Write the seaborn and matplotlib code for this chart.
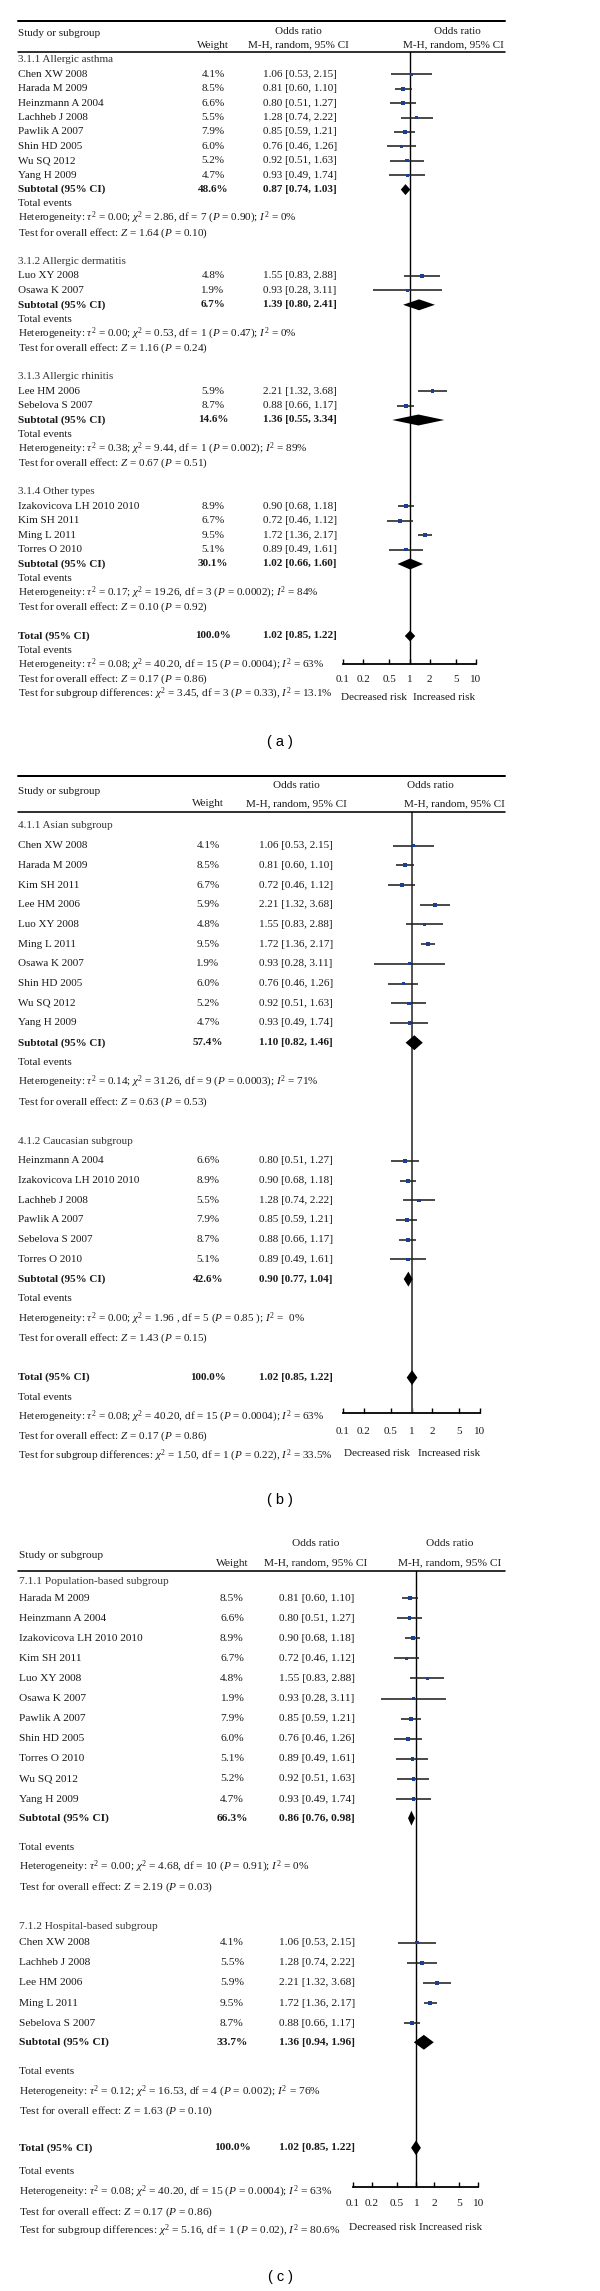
import numpy as np
import pandas as pd
import matplotlib
matplotlib.use("Agg")
import matplotlib.pyplot as plt
import matplotlib.transforms as mtransforms
from matplotlib.lines import Line2D
from matplotlib.ticker import NullLocator
import seaborn as sns

# ---- study data (same 16 studies used in all three panels) ----
studies = ["Chen XW 2008", "Harada M 2009", "Heinzmann A 2004", "Izakovicova LH 2010 2010",
           "Kim SH 2011", "Lachheb J 2008", "Lee HM 2006", "Luo XY 2008", "Ming L 2011",
           "Osawa K 2007", "Pawlik A 2007", "Sebelova S 2007", "Shin HD 2005",
           "Torres O 2010", "Wu SQ 2012", "Yang H 2009"]
weights = [4.1, 8.5, 6.6, 8.9, 6.7, 5.5, 5.9, 4.8, 9.5, 1.9, 7.9, 8.7, 6.0, 5.1, 5.2, 4.7]
odds = [1.06, 0.81, 0.80, 0.90, 0.72, 1.28, 2.21, 1.55, 1.72, 0.93, 0.85, 0.88, 0.76, 0.89, 0.92, 0.93]
ci_low = [0.53, 0.60, 0.51, 0.68, 0.46, 0.74, 1.32, 0.83, 1.36, 0.28, 0.59, 0.66, 0.46, 0.49, 0.51, 0.49]
ci_high = [2.15, 1.10, 1.27, 1.18, 1.12, 2.22, 3.68, 2.88, 2.17, 3.11, 1.21, 1.17, 1.26, 1.61, 1.63, 1.74]

# overall result (identical in every panel)
total_weight = 100.0
total_or = [1.02, 0.85, 1.22]
total_het = ["0.08", "40.20", "15", "0.0004", "63%"]
total_z = ["0.17", "0.86"]

# ---- panel (a): allergy type ----
a_groups = ["3.1.1 Allergic asthma", "3.1.2 Allergic dermatitis", "3.1.3 Allergic rhinitis", "3.1.4 Other types"]
a_members = [["Chen XW 2008", "Harada M 2009", "Heinzmann A 2004", "Lachheb J 2008", "Pawlik A 2007",
              "Shin HD 2005", "Wu SQ 2012", "Yang H 2009"],
             ["Luo XY 2008", "Osawa K 2007"],
             ["Lee HM 2006", "Sebelova S 2007"],
             ["Izakovicova LH 2010 2010", "Kim SH 2011", "Ming L 2011", "Torres O 2010"]]
a_sub_weight = [48.6, 6.7, 14.6, 30.1]
a_sub_or = [0.87, 1.39, 1.36, 1.02]
a_sub_low = [0.74, 0.80, 0.55, 0.66]
a_sub_high = [1.03, 2.41, 3.34, 1.60]
a_het = [["0.00", "2.86", "7", "0.90", "0%"], ["0.00", "0.53", "1", "0.47", "0%"],
         ["0.38", "9.44", "1", "0.002", "89%"], ["0.17", "19.26", "3", "0.0002", "84%"]]
a_z = [["1.64", "0.10"], ["1.16", "0.24"], ["0.67", "0.51"], ["0.10", "0.92"]]
a_diff = ["3.45", "3", "0.33", "13.1%"]

# ---- panel (b): ethnicity ----
b_groups = ["4.1.1 Asian subgroup", "4.1.2 Caucasian subgroup"]
b_members = [["Chen XW 2008", "Harada M 2009", "Kim SH 2011", "Lee HM 2006", "Luo XY 2008",
              "Ming L 2011", "Osawa K 2007", "Shin HD 2005", "Wu SQ 2012", "Yang H 2009"],
             ["Heinzmann A 2004", "Izakovicova LH 2010 2010", "Lachheb J 2008", "Pawlik A 2007",
              "Sebelova S 2007", "Torres O 2010"]]
b_sub_weight = [57.4, 42.6]
b_sub_or = [1.10, 0.90]
b_sub_low = [0.82, 0.77]
b_sub_high = [1.46, 1.04]
b_het = [["0.14", "31.26", "9", "0.0003", "71%"], ["0.00", "1.96 ", "5", "0.85 ", " 0%"]]
b_z = [["0.63", "0.53"], ["1.43", "0.15"]]
b_diff = ["1.50", "1", "0.22", "33.5%"]

# ---- panel (c): source of controls ----
c_groups = ["7.1.1 Population-based subgroup", "7.1.2 Hospital-based subgroup"]
c_members = [["Harada M 2009", "Heinzmann A 2004", "Izakovicova LH 2010 2010", "Kim SH 2011",
              "Luo XY 2008", "Osawa K 2007", "Pawlik A 2007", "Shin HD 2005", "Torres O 2010",
              "Wu SQ 2012", "Yang H 2009"],
             ["Chen XW 2008", "Lachheb J 2008", "Lee HM 2006", "Ming L 2011", "Sebelova S 2007"]]
c_sub_weight = [66.3, 33.7]
c_sub_or = [0.86, 1.36]
c_sub_low = [0.76, 0.94]
c_sub_high = [0.98, 1.96]
c_het = [["0.00", "4.68", "10", "0.91", "0%"], ["0.12", "16.53", "4", "0.002", "76%"]]
c_z = [["2.19", "0.03"], ["1.63", "0.10"]]
c_diff = ["5.16", "1", "0.02", "80.6%"]

tick_vals = [0.1, 0.2, 0.5, 1, 2, 5, 10]
tick_labels = ["0.1", "0.2", "0.5", "1", "2", "5", "10"]

# ---- layout (pixel positions of the 600 x 2291 figure; at 72 dpi 1 pt == 1 px) ----
W, H = 600, 2291
even = dict(first=1, study=1, subtotal=1, events=1, het=1, z=1, group=2, total=2,
            tevents=1, thet=1, tz=1, diff=1)
lay_a = dict(top_rule=21, hdr1=31, hdr_study=33, hdr2=45, rule2=52, row0=60, h=14.4,
             name_x=18, weight_x=213, or_x=300, hdr_or_x=298, plot_hdr1_x=457, plot_hdr2_x=453,
             left=343, right=476, axis_y=664, pad=10.5, risk_y=697, dec_x=374, inc_x=444,
             label="( a )", label_y=742, fs=11.1, vline="black", vlw=1.4, half=0.38, steps=even)
lay_b = dict(top_rule=776, hdr1=785, hdr_study=792, hdr2=804, rule2=812, row0=826, h=19.7,
             name_x=18, weight_x=208, or_x=296, hdr_or_x=296, plot_hdr1_x=430, plot_hdr2_x=454,
             left=343, right=480, axis_y=1413, pad=13.5, risk_y=1453, dec_x=377, inc_x=449,
             label="( b )", label_y=1500, fs=11.1, vline="#555555", vlw=2.0, half=0.38, steps=even)
lay_c = dict(top_rule=None, hdr1=1543, hdr_study=1556, hdr2=1563, rule2=1571, row0=1582, h=20.1,
             name_x=19, weight_x=232, or_x=317, hdr_or_x=316, plot_hdr1_x=450, plot_hdr2_x=450,
             left=353, right=478, axis_y=2187, pad=12.5, risk_y=2228, dec_x=383, inc_x=451,
             label="( c )", label_y=2277, fs=11.4, vline="black", vlw=1.4, half=0.37,
             steps=dict(first=0.8, study=1, subtotal=0.95, events=1.45, het=1, z=1, group=1.95,
                        total=1.8, tevents=1.2, thet=1.02, tz=1, diff=0.9))

sns.set_theme(style="white")
plt.rcParams["font.family"] = ["Liberation Serif", "DejaVu Serif"]
plt.rcParams["mathtext.fontset"] = "custom"
plt.rcParams["mathtext.rm"] = "Liberation Serif"
plt.rcParams["mathtext.it"] = "Liberation Serif:italic"
plt.rcParams["mathtext.bf"] = "Liberation Serif:bold"

TXT = "#1a1a1a"


def fx(px):
    return px / W


def fy(py):
    return 1 - py / H


def or_text(v, lo, hi):
    return f"{v:.2f} [{lo:.2f}, {hi:.2f}]"


def het_text(hv):
    return (r"Heterogeneity: $\tau^2$ = " + hv[0] + r"; $\chi^2$ = " + hv[1] + ", df = " + hv[2]
            + r" ($P$ = " + hv[3] + r"); $I^2$ = " + hv[4])


def z_text(zv):
    return r"Test for overall effect: $Z$ = " + zv[0] + r" ($P$ = " + zv[1] + ")"


def diamond(ax, r, est, lo, hi, half):
    ax.fill([lo, est, hi, est], [r, r - half, r, r + half], color="black", lw=0, zorder=4)


def draw_panel(fig, groups, members, sub_w, sub_or, sub_lo, sub_hi, het, zs, diff, lay):
    ax = fig.add_axes([fx(lay["left"]), fy(lay["axis_y"]), fx(lay["right"] - lay["left"]),
                       (lay["axis_y"] - lay["rule2"]) / H])
    ax.set_facecolor("none")
    T = mtransforms.blended_transform_factory(fig.transFigure, ax.transData)
    fs = lay["fs"]
    st = lay["steps"]

    # header block
    if lay["top_rule"] is not None:
        fig.add_artist(Line2D([fx(18), fx(505)], [fy(lay["top_rule"])] * 2,
                              transform=fig.transFigure, color="black", lw=2.0))
    fig.add_artist(Line2D([fx(18), fx(505)], [fy(lay["rule2"])] * 2,
                          transform=fig.transFigure, color="black", lw=1.6))
    fig.text(fx(lay["name_x"]), fy(lay["hdr_study"]), "Study or subgroup", fontsize=fs,
             color=TXT, va="center", ha="left")
    fig.text(fx(lay["weight_x"]), fy(lay["hdr2"]), "Weight", fontsize=fs, color=TXT,
             va="center", ha="center")
    fig.text(fx(lay["hdr_or_x"]), fy(lay["hdr1"]), "Odds ratio", fontsize=fs, color=TXT,
             va="center", ha="center")
    fig.text(fx(lay["hdr_or_x"]), fy(lay["hdr2"]), "M-H, random, 95% CI", fontsize=fs,
             color=TXT, va="center", ha="center")
    fig.text(fx(lay["plot_hdr1_x"]), fy(lay["hdr1"]), "Odds ratio", fontsize=fs, color=TXT,
             va="center", ha="center")
    fig.text(fx(lay["plot_hdr2_x"]), fy(lay["hdr2"]), "M-H, random, 95% CI", fontsize=fs,
             color=TXT, va="center", ha="center")

    def put(x, r, s, color=TXT, **kw):
        ax.text(fx(x), r, s, transform=T, fontsize=fs, color=color, va="center", **kw)

    half = lay["half"]
    pts = []
    r = 0.0
    for gi, g in enumerate(groups):
        if gi > 0:
            r += st["group"]
        put(lay["name_x"], r, g, ha="left", color="#333333")
        for k, name in enumerate(members[gi]):
            r += st["first"] if k == 0 else st["study"]
            i = studies.index(name)
            put(lay["name_x"], r, name, ha="left")
            put(lay["weight_x"], r, f"{weights[i]:.1f}%", ha="center")
            put(lay["or_x"], r, or_text(odds[i], ci_low[i], ci_high[i]), ha="center")
            pts.append(dict(row=r, OR=odds[i], lo=ci_low[i], hi=ci_high[i], w=weights[i]))
        r += st["subtotal"]
        put(lay["name_x"], r, "Subtotal (95% CI)", ha="left", fontweight="bold")
        put(lay["weight_x"], r, f"{sub_w[gi]:.1f}%", ha="center", fontweight="bold")
        put(lay["or_x"], r, or_text(sub_or[gi], sub_lo[gi], sub_hi[gi]), ha="center",
            fontweight="bold")
        diamond(ax, r, sub_or[gi], sub_lo[gi], sub_hi[gi], half)
        r += st["events"]
        put(lay["name_x"], r, "Total events", ha="left")
        r += st["het"]
        put(lay["name_x"], r, het_text(het[gi]), ha="left")
        r += st["z"]
        put(lay["name_x"], r, z_text(zs[gi]), ha="left")

    r += st["total"]
    put(lay["name_x"], r, "Total (95% CI)", ha="left", fontweight="bold")
    put(lay["weight_x"], r, f"{total_weight:.1f}%", ha="center", fontweight="bold")
    put(lay["or_x"], r, or_text(*total_or), ha="center", fontweight="bold")
    diamond(ax, r, total_or[0], total_or[1], total_or[2], half)
    r += st["tevents"]
    put(lay["name_x"], r, "Total events", ha="left")
    r += st["thet"]
    put(lay["name_x"], r, het_text(total_het), ha="left")
    r += st["tz"]
    put(lay["name_x"], r, z_text(total_z), ha="left")
    r += st["diff"]
    put(lay["name_x"], r, r"Test for subgroup differences: $\chi^2$ = " + diff[0] + ", df = "
        + diff[1] + r" ($P$ = " + diff[2] + r"), $I^2$ = " + diff[3], ha="left")

    df = pd.DataFrame(pts)
    ax.hlines(df["row"], df["lo"], df["hi"], color="#222222", lw=1.6, zorder=2)
    sns.scatterplot(data=df, x="OR", y="row", size="w", sizes=(8, 16), marker="s",
                    color="#1c3f94", linewidth=0, legend=False, ax=ax, zorder=3)
    ax.axvline(1, color=lay["vline"], lw=lay["vlw"], zorder=1)

    ax.set_xscale("log")
    ax.set_xlim(0.1, 10)
    ax.set_ylim((lay["axis_y"] - lay["row0"]) / lay["h"], (lay["rule2"] - lay["row0"]) / lay["h"])
    ax.set_xticks(tick_vals)
    ax.set_xticklabels(tick_labels)
    ax.xaxis.set_minor_locator(NullLocator())
    ax.set_yticks([])
    ax.set_xlabel("")
    ax.set_ylabel("")
    for sp in ["left", "right", "top"]:
        ax.spines[sp].set_visible(False)
    ax.spines["bottom"].set_color("black")
    ax.spines["bottom"].set_linewidth(1.8)
    ax.tick_params(axis="x", direction="in", length=5, width=1.4, color="black",
                   pad=lay["pad"], labelsize=fs, labelcolor=TXT, bottom=True)

    fig.text(fx(lay["dec_x"]), fy(lay["risk_y"]), "Decreased risk", fontsize=fs, color=TXT,
             ha="center", va="center")
    fig.text(fx(lay["inc_x"]), fy(lay["risk_y"]), "Increased risk", fontsize=fs, color=TXT,
             ha="center", va="center")
    fig.text(fx(280), fy(lay["label_y"]), lay["label"], fontsize=14.5, color="black",
             ha="center", va="center", family=["Liberation Sans", "DejaVu Sans"])


fig = plt.figure(figsize=(W / 72, H / 72), dpi=72)
fig.patch.set_facecolor("white")

draw_panel(fig, a_groups, a_members, a_sub_weight, a_sub_or, a_sub_low, a_sub_high,
           a_het, a_z, a_diff, lay_a)
draw_panel(fig, b_groups, b_members, b_sub_weight, b_sub_or, b_sub_low, b_sub_high,
           b_het, b_z, b_diff, lay_b)
draw_panel(fig, c_groups, c_members, c_sub_weight, c_sub_or, c_sub_low, c_sub_high,
           c_het, c_z, c_diff, lay_c)

fig.savefig("out.png", dpi=72, facecolor="white")
